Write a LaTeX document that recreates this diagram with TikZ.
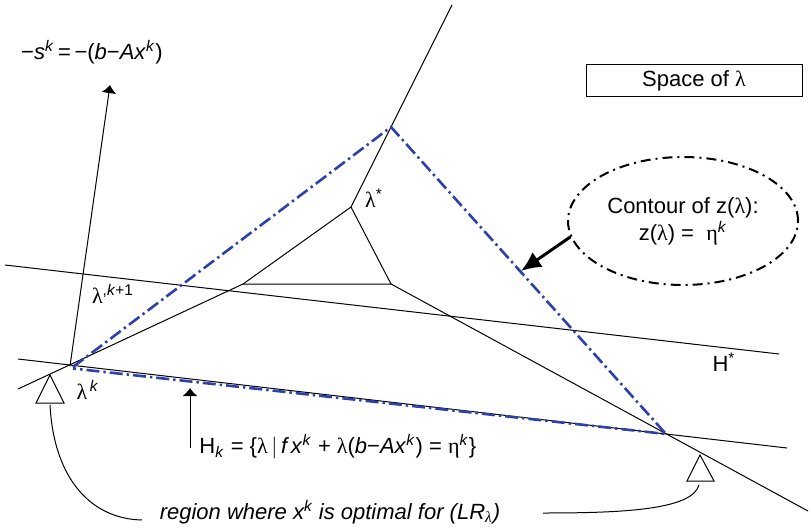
\documentclass[tikz,border=0pt]{standalone}
\usepackage{fontspec}
\setmainfont{Liberation Sans}
\newfontfamily\greekfont{Liberation Serif}
\usetikzlibrary{arrows.meta,positioning,shapes.geometric}
\newcommand{\lam}{{\greekfont λ}}
\newcommand{\etag}{{\greekfont η}}
\definecolor{contourblue}{RGB}{45,65,170}
\tikzset{
  thinline/.style={line width=0.5pt},
  contourline/.style={contourblue,line width=1.3pt,dash pattern=on 6.5pt off 2pt on 1.2pt off 2pt},
  dashdotline/.style={line width=1pt,dash pattern=on 5pt off 2.5pt on 1pt off 2.5pt},
  lbl/.style={inner sep=0pt,font=\fontsize{11}{13.5}\selectfont},
  marker/.style={thinline,fill=white}
}

\begin{document}
\begin{tikzpicture}[x=0.5pt,y=-0.5pt,>={Latex[length=4pt,width=7.5pt]}]
        \useasboundingbox (0,0) rectangle (812,529);
        % vertices
        \coordinate (lamk) at (70,366);
        \coordinate (blv) at (243,284);
        \coordinate (brv) at (391,284);
        \coordinate (lamstar) at (351,207);
        \coordinate (apex) at (391,127);
        \coordinate (hkend) at (666,434);
        % lines
        \draw[thinline] (5,265) -- (779,354);
        \draw[thinline] (18,359) -- (787,448);
        \draw[thinline] (18,389) -- (blv) -- (lamstar) -- (452,5);
        \draw[thinline] (blv) -- (brv) -- (lamstar);
        \draw[thinline] (brv) -- (808,511);
        \draw[thinline,->] (lamk) -- (110,85);
        % contour
        \draw[contourline] (73,367) -- (apex) -- (hkend) -- (73,368.5);
        % labels
        \node[lbl] (sk) at (92,52) {−\textit{s}\textsuperscript{\textit{k}}\,=\,−(\textit{b}−\textit{Ax}\textsuperscript{\textit{k}})};
        \node[lbl,draw,thinline,minimum width=108pt,minimum height=16pt] (space) at (694,81) {Space of \lam};
        \node[lbl,ellipse,draw,dashdotline,minimum width=115pt,minimum height=64pt,align=center] (cont) at (683,221) {Contour of z(\lam):\\z(\lam) =\ \ \etag\textsuperscript{\textit{k}}};
        \node[lbl] (lstar) at (374,198) {\lam\textsuperscript{*}};
        \node[lbl] (lk) at (88,390) {\lam\textsuperscript{\,\textit{k}}};
        \node[lbl] (lk1) at (113,294) {\lam\textsuperscript{,\textit{k}+1}};
        \node[lbl] (hstar) at (724,362) {H\textsuperscript{*}};
        \node[lbl,anchor=west] (hk) at (199,447) {H\textsubscript{\textit{k}} = \{\lam\,$\big|$\,\textit{f\,x}\textsuperscript{\textit{k}} + \lam(\textit{b}−\textit{Ax}\textsuperscript{\textit{k}}) = \etag\textsuperscript{\textit{k}}\}};
        \node[lbl,font=\fontsize{11}{13.5}\selectfont\itshape] (region) at (330,512) {region where x\textsuperscript{k} is optimal for (LR\textsubscript{\lam})};
        % arrows
        \coordinate (tip) at (521,271);
        \draw[line width=1.5pt,-{Latex[length=10pt,width=9pt]}] (cont.188) -- (tip);
        \draw[thinline,->] (190,448) -- (190,388);
        % markers
        \draw[marker] (50,375) -- (64,403) -- (36,403) -- cycle;
        \draw[marker] (700,455) -- (714,481) -- (687,481) -- cycle;
        \coordinate (mk1) at (50,405);
        \coordinate (mk2) at (699,485);
        \draw[thinline] (mk1) .. controls (54,480) and (92,519) .. (142,520);
        \draw[thinline] (mk2) .. controls (692,510) and (622,513) .. (543,513);
      \end{tikzpicture}
\end{document}
